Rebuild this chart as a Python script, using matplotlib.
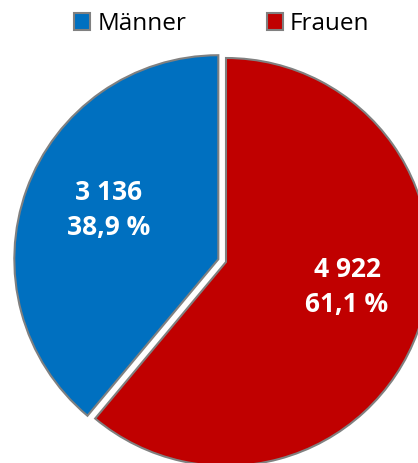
import matplotlib
matplotlib.use("Agg")
import matplotlib.pyplot as plt
from matplotlib.patches import Patch

categories = ["Männer", "Frauen"]
values = [3136, 4922]
percent_labels = ["38,9 %", "61,1 %"]
value_labels = ["3 136", "4 922"]
colors = ["#0070C0", "#C00000"]

plt.rcParams['font.family'] = ['Open Sans', 'DejaVu Sans']

fig = plt.figure(figsize=(4.18, 4.63), dpi=100)
ax = fig.add_axes([0, 0, 1, 1])
W, H = 418, 463
cx, cy, r = 226, 262, 204

order = [1, 0]
wedges, _ = ax.pie([values[i] for i in order], colors=[colors[i] for i in order],
                   startangle=90, counterclock=False,
                   explode=[0, 0.04], radius=1,
                   wedgeprops=dict(edgecolor='#808080', linewidth=1.5),
                   frame=False)
ax.axis('off')
ax.set_aspect('auto')
ax.set_xlim(-cx / r, (W - cx) / r)
ax.set_ylim(-(H - cy) / r, cy / r)

label_pos = {0: (109, 210), 1: (347, 287)}
for i in range(2):
    px, py = label_pos[i]
    x = (px - cx) / r
    y = (cy - py) / r
    ax.text(x, y, value_labels[i] + "\n" + percent_labels[i], ha='center', va='center',
            color='white', fontsize=19, fontweight='bold', linespacing=1.4)

handles = [Patch(facecolor=colors[i], edgecolor='#808080', linewidth=1.5) for i in range(2)]
fig.legend(handles, categories, loc='center', bbox_to_anchor=(222 / W, 1 - 24 / H),
           ncol=2, frameon=False, fontsize=17.5, handlelength=0.66, handleheight=0.66,
           handletextpad=0.3, columnspacing=3.3)

fig.savefig("out.png", dpi=100)
